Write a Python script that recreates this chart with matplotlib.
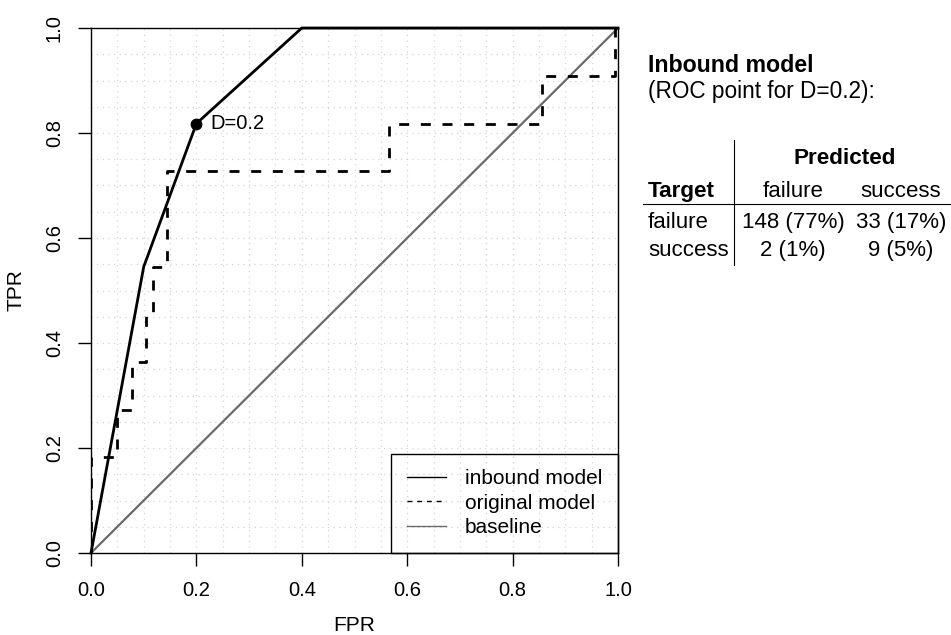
import numpy as np
import matplotlib
matplotlib.use("Agg")
import matplotlib.pyplot as plt
from matplotlib.lines import Line2D

plt.rcParams["font.family"] = ["Liberation Sans", "DejaVu Sans"]

# ROC curves
inbound_fpr = [0.0, 0.1, 0.2, 0.4, 1.0]
inbound_tpr = [0.0, 0.545, 0.818, 1.0, 1.0]

original_fpr = [0.0, 0.0, 0.05, 0.078, 0.105, 0.117, 0.145, 0.565, 0.855, 0.995, 1.0]
original_tpr = [0.0, 0.182, 0.273, 0.364, 0.455, 0.545, 0.727, 0.818, 0.909, 1.0, 1.0]

baseline_fpr = [0.0, 1.0]
baseline_tpr = [0.0, 1.0]

roc_point = (0.2, 0.818)
roc_label = "D=0.2"

ticks = [0.0, 0.2, 0.4, 0.6, 0.8, 1.0]
legend_labels = ["inbound model", "original model", "baseline"]

# confusion table
table_title = "Inbound model"
table_subtitle = "(ROC point for D=0.2):"
pred_classes = ["failure", "success"]
target_classes = ["failure", "success"]
cells = [["148 (77%)", "33 (17%)"],
         ["2 (1%)", "9 (5%)"]]

W, H = 951, 635
fig = plt.figure(figsize=(W / 100, H / 100), dpi=100)


def fx(px):
    return px / W


def fy(py):
    return 1 - py / H


ax = fig.add_axes([fx(91), fy(553), fx(618) - fx(91), fy(28) - fy(553)])
ax.set_xlim(0, 1)
ax.set_ylim(0, 1)

grid_pos = np.arange(0, 1.0001, 0.05)
ax.set_xticks(grid_pos, minor=True)
ax.set_yticks(grid_pos, minor=True)
ax.grid(which="both", color="#d4d4d4", linestyle=(0, (1, 3.5)), linewidth=0.9)
ax.set_axisbelow(True)

gray = "#6a6a6a"
ax.plot(baseline_fpr, baseline_tpr, color=gray, lw=1.6, zorder=2)
ax.plot(original_fpr, original_tpr, color="black", lw=2.0,
        drawstyle="steps-post", dashes=(3.6, 4.2), zorder=3)
ax.plot(inbound_fpr, inbound_tpr, color="black", lw=2.0, zorder=4,
        clip_on=False)
ax.plot([roc_point[0]], [roc_point[1]], "o", color="black", ms=7.5, zorder=5)
ax.annotate(roc_label, roc_point, xytext=(10, 0), textcoords="offset points",
            ha="left", va="center", fontsize=14.5)

ax.set_xticks(ticks)
ax.set_yticks(ticks)
ax.set_xticklabels([f"{t:.1f}" for t in ticks])
ax.set_yticklabels([f"{t:.1f}" for t in ticks], rotation=90, va="center")
ax.tick_params(which="major", direction="out", length=9.5, width=1.0,
               labelsize=14.5, color="black")
ax.tick_params(axis="x", pad=11)
ax.tick_params(axis="y", pad=10)
ax.tick_params(which="minor", length=0)
for sp in ax.spines.values():
    sp.set_linewidth(1.0)
    sp.set_color("black")

ax.set_xlabel("FPR", fontsize=15, labelpad=11)
ax.set_ylabel("TPR", fontsize=15, labelpad=14)

handles = [Line2D([], [], color="black", lw=1.0),
           Line2D([], [], color="black", lw=1.0, dashes=(3.5, 3.5)),
           Line2D([], [], color=gray, lw=1.0)]
leg = ax.legend(handles, legend_labels, loc="lower right", fontsize=15,
                frameon=True, fancybox=False, borderaxespad=0,
                handlelength=1.9, handletextpad=0.9, labelspacing=0.27,
                borderpad=0.75)
frame = leg.get_frame()
frame.set_facecolor("none")
frame.set_alpha(None)
frame.set_edgecolor("black")
frame.set_linewidth(1.0)

# text block on the right
fig.text(fx(648), fy(72), table_title, fontsize=16.7, fontweight="bold",
         va="baseline", ha="left")
fig.text(fx(648), fy(98), table_subtitle, fontsize=16.3,
         va="baseline", ha="left")

col_x = [793, 901]
fig.text(fx(845), fy(164), "Predicted", fontsize=16.2, fontweight="bold",
         ha="center", va="baseline")
fig.text(fx(648), fy(197), "Target", fontsize=16.2, fontweight="bold",
         ha="left", va="baseline")
for cx, name in zip(col_x, pred_classes):
    fig.text(fx(cx), fy(197), name, fontsize=16, ha="center", va="baseline")
row_y = [228, 256]
for ry, name, row in zip(row_y, target_classes, cells):
    fig.text(fx(648), fy(ry), name, fontsize=16, ha="left", va="baseline")
    for cx, val in zip(col_x, row):
        fig.text(fx(cx), fy(ry), val, fontsize=16, ha="center",
                 va="baseline")

fig.add_artist(Line2D([fx(734), fx(734)], [fy(140), fy(265)],
                      color="black", lw=0.8))
fig.add_artist(Line2D([fx(643), fx(951)], [fy(204), fy(204)],
                      color="black", lw=0.8))

fig.savefig("out.png", dpi=100)
